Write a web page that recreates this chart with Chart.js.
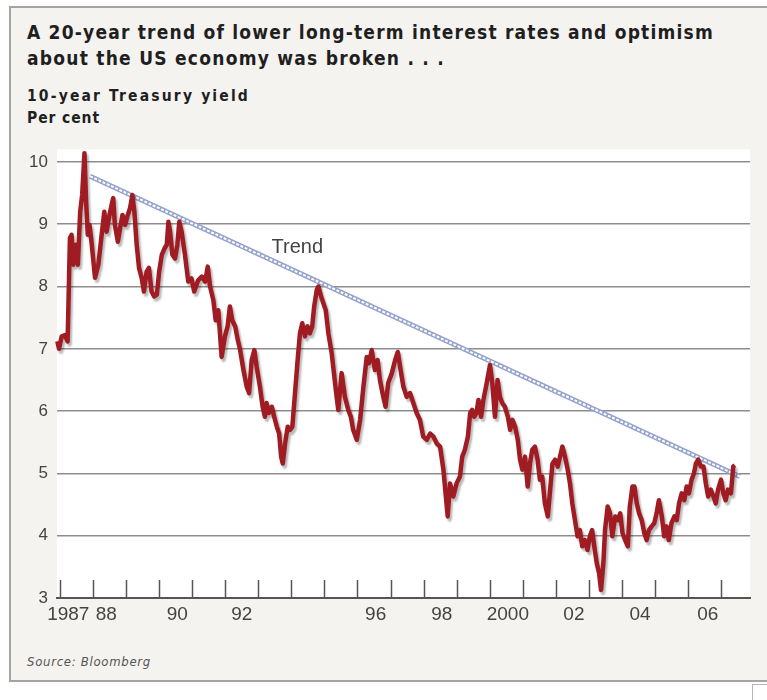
<!DOCTYPE html>
<html>
<head>
<meta charset="utf-8">
<title>10-year Treasury yield</title>
<script src="https://cdn.jsdelivr.net/npm/chart.js@4.4.1/dist/chart.umd.min.js"></script>
<style>
	html, body { margin: 0; padding: 0; background: #fff; }
	body { width: 767px; height: 700px; position: relative; overflow: hidden;
		font-family: "Liberation Sans Narrow", "DejaVu Sans Condensed", "Liberation Sans", sans-serif; }
	.panel { position: absolute; left: 9px; top: 6px; width: 770px; height: 672px;
		background: #f5f3f0; border: 2px solid #a4a4a4; border-right: none; }
	.txt { position: absolute; left: 27px; white-space: nowrap; color: #1f1f1f; font-weight: bold; line-height: 1; }
	.title { font-size: 19px; }
	.sub { font-size: 15.5px; }
	.src { font-size: 13px; font-weight: normal; font-style: italic; color: #555; }
	.corner { position: absolute; left: 752px; top: 684px; width: 20px; height: 20px; border: 1px solid #b5b5b5; background: #fff; }
	#chart { position: absolute; left: 0; top: 130px; }
</style>
</head>
<body>
<div class="panel"></div>
<div class="txt title" style="top:23px" data-w="687">A 20-year trend of lower long-term interest rates and optimism</div>
<div class="txt title" style="top:49px" data-w="418">about the US economy was broken . . .</div>
<div class="txt sub" style="top:89px" data-w="223">10-year Treasury yield</div>
<div class="txt sub" style="top:111px" data-w="73">Per cent</div>
<div class="txt src" style="top:655px" data-w="124">Source: Bloomberg</div>
<div class="corner"></div>
<canvas id="chart" width="767" height="530"></canvas>
<script>
	// values (decimal year, per cent)
	const dates = [
		1986.92, 1986.97, 1987.05, 1987.15, 1987.23, 1987.30, 1987.35, 1987.40, 1987.48, 1987.54, 1987.61, 1987.67, 1987.74, 1987.79, 1987.84, 1987.89, 1987.94,
		1988.06, 1988.16, 1988.26, 1988.34, 1988.41, 1988.48, 1988.56, 1988.61, 1988.66, 1988.75, 1988.82, 1988.89, 1988.97,
		1989.05, 1989.12, 1989.19, 1989.25, 1989.32, 1989.39, 1989.47, 1989.54, 1989.62, 1989.69, 1989.77, 1989.85, 1989.93,
		1990.00, 1990.08, 1990.16, 1990.23, 1990.28, 1990.33, 1990.40, 1990.48, 1990.55, 1990.61, 1990.68, 1990.78, 1990.88, 1990.98,
		1991.06, 1991.18, 1991.29, 1991.39, 1991.47, 1991.54, 1991.64, 1991.71, 1991.79, 1991.89, 1991.99,
		1992.07, 1992.14, 1992.21, 1992.30, 1992.38, 1992.45, 1992.55, 1992.65, 1992.72, 1992.80, 1992.88, 1992.95,
		1993.05, 1993.13, 1993.20, 1993.25, 1993.32, 1993.41, 1993.48, 1993.56, 1993.63, 1993.69, 1993.74, 1993.81, 1993.89, 1993.96,
		1994.03, 1994.11, 1994.19, 1994.26, 1994.33, 1994.41, 1994.49, 1994.56, 1994.63, 1994.69, 1994.77, 1994.82, 1994.90, 1994.97,
		1995.04, 1995.12, 1995.22, 1995.30, 1995.37, 1995.42, 1995.52, 1995.62, 1995.72, 1995.80, 1995.87, 1995.98,
		1996.08, 1996.18, 1996.28, 1996.35, 1996.43, 1996.53, 1996.61, 1996.68, 1996.78, 1996.85, 1996.93,
		1997.04, 1997.14, 1997.22, 1997.29, 1997.39, 1997.49, 1997.59, 1997.69, 1997.79, 1997.89, 1997.99,
		1998.10, 1998.20, 1998.30, 1998.40, 1998.50, 1998.60, 1998.73, 1998.80, 1998.90,
		1999.00, 1999.10, 1999.17, 1999.25, 1999.34, 1999.41, 1999.47, 1999.53, 1999.60, 1999.66, 1999.74, 1999.81, 1999.91,
		2000.01, 2000.08, 2000.16, 2000.24, 2000.31, 2000.38, 2000.46, 2000.55, 2000.62, 2000.69, 2000.77, 2000.85, 2000.92, 2000.99,
		2001.07, 2001.15, 2001.22, 2001.29, 2001.37, 2001.45, 2001.52, 2001.59, 2001.67, 2001.76, 2001.83, 2001.90, 2001.98,
		2002.06, 2002.13, 2002.20, 2002.28, 2002.36, 2002.43, 2002.50, 2002.58, 2002.66, 2002.73, 2002.80, 2002.88, 2002.96,
		2003.03, 2003.10, 2003.18, 2003.24, 2003.31, 2003.37, 2003.44, 2003.49, 2003.57, 2003.64, 2003.71, 2003.80, 2003.88, 2003.95,
		2004.02, 2004.10, 2004.18, 2004.24, 2004.32, 2004.38, 2004.45, 2004.52, 2004.60, 2004.68, 2004.75, 2004.82, 2004.90, 2004.98,
		2005.05, 2005.12, 2005.21, 2005.28, 2005.35, 2005.42, 2005.50, 2005.59, 2005.66, 2005.73, 2005.81, 2005.89, 2005.96,
		2006.03, 2006.11, 2006.18, 2006.24, 2006.31, 2006.39, 2006.47, 2006.54, 2006.61, 2006.69, 2006.77, 2006.84, 2006.91,
		2007.00, 2007.07, 2007.14, 2007.21, 2007.30, 2007.37, 2007.42
	];
	const yields = [
		7.12, 7.0, 7.2, 7.22, 7.12, 8.78, 8.83, 8.35, 8.67, 8.35, 9.2, 9.47, 10.14, 9.36, 8.83, 8.99, 8.78,
		8.14, 8.35, 8.83, 9.2, 8.88, 9.1, 9.31, 9.42, 8.99, 8.72, 8.94, 9.15, 8.99,
		9.15, 9.26, 9.47, 9.2, 8.67, 8.3, 8.14, 7.92, 8.24, 8.3, 7.92, 7.84, 7.87,
		8.24, 8.51, 8.61, 8.67, 9.04, 8.88, 8.51, 8.45, 8.67, 9.04, 8.88, 8.51, 8.08, 8.13,
		7.92, 8.1, 8.16, 8.08, 8.32, 8.0, 7.78, 7.46, 7.62, 6.87, 7.2,
		7.36, 7.68, 7.46, 7.36, 7.14, 6.98, 6.66, 6.39, 6.29, 6.82, 6.98, 6.71,
		6.39, 6.07, 5.91, 6.13, 5.97, 6.07, 5.91, 5.75, 5.64, 5.27, 5.16, 5.48, 5.75, 5.7,
		5.75, 6.29, 6.82, 7.25, 7.41, 7.2, 7.36, 7.25, 7.36, 7.68, 7.95, 8.0, 7.84, 7.73,
		7.62, 7.25, 6.93, 6.55, 6.23, 6.02, 6.61, 6.23, 6.02, 5.91, 5.7, 5.54,
		5.86, 6.39, 6.87, 6.77, 6.98, 6.66, 6.82, 6.5, 6.23, 6.07, 6.45,
		6.61, 6.82, 6.95, 6.71, 6.39, 6.23, 6.29, 6.13, 5.97, 5.86, 5.59,
		5.54, 5.64, 5.59, 5.48, 5.43, 5.06, 4.31, 4.84, 4.63,
		4.84, 4.95, 5.27, 5.38, 5.59, 5.97, 6.02, 5.91, 5.97, 6.18, 5.91, 6.18, 6.45,
		6.74, 6.45, 5.91, 6.5, 6.23, 6.13, 6.07, 5.91, 5.7, 5.86, 5.75, 5.54, 5.22, 5.06,
		5.27, 4.79, 5.16, 5.38, 5.43, 5.22, 4.9, 4.95, 4.52, 4.31, 4.74, 5.16, 5.22,
		5.11, 5.27, 5.43, 5.27, 5.06, 4.84, 4.52, 4.25, 3.99, 4.09, 3.83, 3.93, 3.77,
		3.99, 4.09, 3.77, 3.56, 3.4, 3.13, 3.56, 4.09, 4.47, 4.36, 3.99, 4.31, 4.25, 4.36,
		4.04, 3.93, 3.83, 4.47, 4.79, 4.79, 4.52, 4.36, 4.25, 4.04, 3.93, 4.09, 4.15, 4.2,
		4.36, 4.57, 4.31, 3.99, 4.15, 3.93, 4.2, 4.31, 4.25, 4.52, 4.68, 4.57, 4.79,
		4.68, 4.9, 5.0, 5.16, 5.22, 5.11, 5.11, 4.84, 4.63, 4.74, 4.63, 4.52, 4.74,
		4.9, 4.68, 4.57, 4.74, 4.68, 5.11, 5.13
	];
	const trendDates = [1987.91, 2007.57];
	const trendValues = [9.77, 4.95];
	const trendLabel = { text: "Trend", x: 1994.18, y: 8.54 };

	const yTicks = [3, 4, 5, 6, 7, 8, 9, 10];
	const yearTicks = [1987, 1988, 1989, 1990, 1991, 1992, 1993, 1994, 1995, 1996, 1997,
		1998, 1999, 2000, 2001, 2002, 2003, 2004, 2005, 2006, 2007];
	const xLabelPos = [1987.25, 1988.4, 1990.55, 1992.5, 1996.55, 1998.55, 2000.55, 2002.55, 2004.55, 2006.6];
	const xLabels = ["1987", "88", "90", "92", "96", "98", "2000", "02", "04", "06"];

	// squeeze/stretch the header texts to the widths in the picture
	document.querySelectorAll("[data-w]").forEach(el => {
		const w = el.getBoundingClientRect().width;
		el.style.letterSpacing = ((+el.dataset.w - w) / el.textContent.length) + "px";
	});

	const toPoints = (xs, ys) => xs.map((x, i) => ({ x: x, y: ys[i] }));

	const frame = {
		id: "frame",
		beforeDraw(chart) {
			const a = chart.chartArea, ctx = chart.ctx;
			ctx.save();
			ctx.fillStyle = "#fff";
			ctx.fillRect(a.left, a.top, a.right - a.left, a.bottom - a.top);
			ctx.restore();
		},
		beforeDatasetsDraw(chart) {
			const ctx = chart.ctx, xs = chart.scales.x, bottom = chart.chartArea.bottom;
			ctx.save();
			ctx.strokeStyle = "#555";
			ctx.lineWidth = 1.5;
			yearTicks.forEach(y => {
				const px = Math.round(xs.getPixelForValue(y)) + 0.5;
				ctx.beginPath();
				ctx.moveTo(px, bottom);
				ctx.lineTo(px, bottom - 18);
				ctx.stroke();
			});
			ctx.restore();
		},
		beforeDatasetDraw(chart, args) {
			if (args.index !== 0) return;
			const ctx = chart.ctx;
			ctx.save();
			ctx.shadowColor = "rgba(0,0,0,0.28)";
			ctx.shadowOffsetX = 2;
			ctx.shadowOffsetY = 3;
			ctx.shadowBlur = 2;
		},
		afterDatasetDraw(chart, args) {
			if (args.index !== 0) return;
			chart.ctx.restore();
		},
		afterDatasetsDraw(chart) {
			const ctx = chart.ctx;
			ctx.save();
			ctx.font = "20px 'Liberation Sans', Arial, sans-serif";
			ctx.fillStyle = "#444";
			ctx.textAlign = "center";
			ctx.textBaseline = "alphabetic";
			ctx.fillText(trendLabel.text, chart.scales.x.getPixelForValue(trendLabel.x), chart.scales.y.getPixelForValue(trendLabel.y));
			ctx.restore();
		}
	};

	new Chart(document.getElementById("chart"), {
		type: "line",
		data: {
			datasets: [
				{
					data: toPoints(dates, yields),
					borderColor: "#a01c22",
					borderWidth: 4.5,
					pointRadius: 0,
					tension: 0,
					borderJoinStyle: "round",
					clip: false,
					order: 0
				},
				{
					data: toPoints(trendDates, trendValues),
					borderColor: "#ffffff",
					borderWidth: 2,
					borderDash: [3, 1.6],
					pointRadius: 0,
					order: 1
				},
				{
					data: toPoints(trendDates, trendValues),
					borderColor: "#95a3cc",
					borderWidth: 5,
					pointRadius: 0,
					order: 2
				}
			]
		},
		options: {
			responsive: false,
			animation: false,
			events: [],
			layout: { padding: { top: 19.5, right: 17, left: 0, bottom: 0 } },
			plugins: { legend: { display: false }, tooltip: { enabled: false } },
			scales: {
				x: {
					type: "linear",
					min: 1986.909,
					max: 2007.877,
					afterFit: s => { s.height = 62; },
					afterBuildTicks: s => { s.ticks = xLabelPos.map(v => ({ value: v })); },
					grid: { display: false, drawTicks: false },
					border: { display: true, color: "#555", width: 2 },
					ticks: {
						autoSkip: false,
						maxRotation: 0,
						padding: 5,
						color: "#444",
						font: { family: "'Liberation Sans', Arial, sans-serif", size: 19 },
						callback: (v, i) => xLabels[i]
					}
				},
				y: {
					min: 3,
					max: 10.2,
					afterFit: s => { s.width = 57; },
					afterBuildTicks: s => { s.ticks = yTicks.map(v => ({ value: v })); },
					grid: {
						drawTicks: false,
						color: c => c.tick && c.tick.value === 3 ? "rgba(0,0,0,0)" : "#8d8d8d",
						lineWidth: 1.5
					},
					border: { display: false },
					ticks: {
						padding: 9,
						color: "#444",
						font: { family: "'Liberation Sans', Arial, sans-serif", size: 17 }
					}
				}
			}
		},
		plugins: [frame]
	});
</script>
</body>
</html>
